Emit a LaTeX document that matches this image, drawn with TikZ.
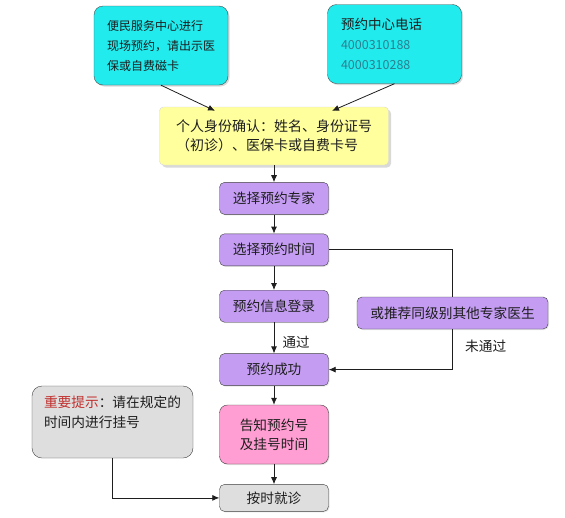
\documentclass[tikz,border=0pt]{standalone}
\usepackage{fontspec}
\setmainfont{Noto Sans CJK SC}
\usepackage{tikz}
\usetikzlibrary{positioning, shadows, arrows.meta}
\definecolor{boxcyan}{HTML}{22EBEE}
\definecolor{boxyellow}{HTML}{FFFF9E}
\definecolor{boxpurple}{HTML}{C49DF3}
\definecolor{boxpink}{HTML}{FF9ED2}
\definecolor{boxgray}{HTML}{DEDEDE}
\definecolor{numteal}{HTML}{2A8090}
\definecolor{warnred}{HTML}{C0302E}
\definecolor{ink}{HTML}{1E1E1E}
\tikzstyle{source} = [rectangle, rounded corners=9pt, minimum width=134pt, minimum height=79pt, align=left, draw=ink!80, fill=boxcyan, text=ink, drop shadow={shadow xshift=1.5pt, shadow yshift=-1.5pt, opacity=0.3}]
\tikzstyle{check} = [rectangle, rounded corners=4pt, minimum width=229pt, minimum height=58pt, align=left, draw=black!15, fill=boxyellow, text=ink, font=\fontsize{14}{19}\selectfont, drop shadow={shadow xshift=2.5pt, shadow yshift=-2.5pt, opacity=0.3}]
\tikzstyle{process} = [rectangle, rounded corners=5pt, minimum width=109pt, minimum height=32pt, text centered, draw=ink!85, fill=boxpurple, text=ink, font=\fontsize{13.7}{19}\selectfont, drop shadow={shadow xshift=1pt, shadow yshift=-1pt, opacity=0.2}]
\tikzstyle{result} = [process, fill=boxpink, rounded corners=8pt, minimum height=59pt, align=left]
\tikzstyle{finish} = [process, fill=boxgray, minimum height=27pt]
\tikzstyle{note} = [rectangle, rounded corners=10pt, minimum width=161pt, minimum height=72pt, text width=137pt, align=left, draw=ink!85, fill=boxgray, text=ink, font=\fontsize{13.7}{20}\selectfont]
\tikzstyle{arrow} = [line width=0.8pt, draw=ink, -{Latex[length=7pt,width=6pt]}]
\tikzstyle{link} = [line width=0.8pt, draw=ink]

\begin{document}
\begin{tikzpicture}[x=1pt, y=-1pt, node distance=19pt]
        \useasboundingbox (0,0) rectangle (565,517);

        \node[source, text width=108pt, font=\fontsize{12}{20}\selectfont] (onsite) at (161,45.5) {便民服务中心进行\\现场预约，请出示医\\保或自费磁卡};
        \node[source, text width=107pt, font=\fontsize{13.5}{20}\selectfont] (phone) at (394.5,44)
            {预约中心电话\\{\fontsize{12.5}{20}\selectfont\color{numteal}4000310188}\\{\fontsize{12.5}{20}\selectfont\color{numteal}4000310288}};
        \node[check]                                           (identity) at (274,136) {个人身份确认：姓名、身份证号\\（初诊）、医保卡或自费卡号};
        \node[process, below=17pt of identity]                 (step 1)  {选择预约专家};
        \node[process, below=of step 1]                        (step 2)  {选择预约时间};
        \node[process, below=24pt of step 2]                   (step 3)  {预约信息登录};
        \node[process, below=31pt of step 3]                   (step 4)  {预约成功};
        \node[result, below=of step 4]                         (notify)  {告知预约号\\及挂号时间};
        \node[finish, below=20pt of notify]                    (visit)   {按时就诊};
        \node[process, minimum width=191pt]                    (other)   at (452.5,313) {或推荐同级别其他专家医生};
        \node[note]                                            (remind)  at (112.5,422) {\textcolor{warnred}{重要提示}：请在规定的\\时间内进行挂号\\~};

        \draw[arrow] (onsite.south) -- ([xshift=-59pt, yshift=-4pt]identity.north);
        \draw[arrow] (phone.south)  -- ([xshift=58pt, yshift=-4pt]identity.north);
        \draw[arrow] (identity) -- (step 1);
        \draw[arrow] (step 1) -- (step 2);
        \draw[arrow] (step 2) -- (step 3);
        \draw[arrow] (step 3) -- node[right=5pt, yshift=-4pt, font=\fontsize{13.5}{16}\selectfont, text=ink] (pass) {通过} (step 4);
        \draw[arrow] (step 4) -- (notify);
        \draw[arrow] (notify) -- (visit);
        \draw[link]  (step 2.east) -| (other.north);
        \draw[arrow] (other.south) |- node[pos=0.25, right=9pt, yshift=3pt, font=\fontsize{13.7}{16}\selectfont, text=ink] (fail) {未通过} (step 4.east);
        \draw[arrow] (remind.south) |- (visit.west);
    \end{tikzpicture}
\end{document}
